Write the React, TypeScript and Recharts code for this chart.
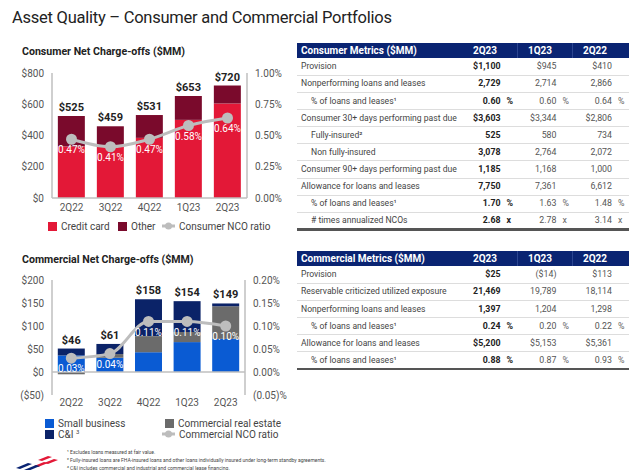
import {
  ComposedChart,
  Bar,
  Line,
  XAxis,
  YAxis,
  LabelList,
  ReferenceLine,
} from 'recharts';

const quarters = ['2Q22', '3Q22', '4Q22', '1Q23', '2Q23'];

const creditCard = [330, 335, 385, 500, 605];
const consumerOther = [195, 124, 146, 153, 115];
const consumerTotals = [525, 459, 531, 653, 720];
const consumerRatio = [0.47, 0.41, 0.47, 0.58, 0.64];

const smallBusiness = [36, 31, 43, 65, 72];
const commercialRealEstate = [-5, 8, 35, 22, 71];
const cAndI = [15, 22, 80, 67, 6];
const commercialTotals = [46, 61, 158, 154, 149];
const commercialRatio = [0.03, 0.04, 0.11, 0.11, 0.1];

const consumerLeftTicks = [0, 200, 400, 600, 800];
const consumerRightTicks = [0, 0.25, 0.5, 0.75, 1];
const commercialLeftTicks = [-50, 0, 50, 100, 150, 200];
const commercialRightTicks = [-0.05, 0, 0.05, 0.1, 0.15, 0.2];

const tableCols = ['2Q23', '1Q23', '2Q22'];

const consumerLabels = [
  'Provision',
  'Nonperforming loans and leases',
  '% of loans and leases¹',
  'Consumer 30+ days performing past due',
  'Fully-insured²',
  'Non fully-insured',
  'Consumer 90+ days performing past due',
  'Allowance for loans and leases',
  '% of loans and leases¹',
  '# times annualized NCOs',
];
const consumerIndent = [0, 0, 1, 0, 1, 1, 0, 0, 1, 1];
const consumerSuffix = ['', '', '%', '', '', '', '', '', '%', 'x'];
const consumer2Q23 = ['$1,100', '2,729', '0.60', '$3,603', '525', '3,078', '1,185', '7,750', '1.70', '2.68'];
const consumer1Q23 = ['$945', '2,714', '0.60', '$3,344', '580', '2,764', '1,168', '7,361', '1.63', '2.78'];
const consumer2Q22 = ['$410', '2,866', '0.64', '$2,806', '734', '2,072', '1,000', '6,612', '1.48', '3.14'];

const commercialLabels = [
  'Provision',
  'Reservable criticized utilized exposure',
  'Nonperforming loans and leases',
  '% of loans and leases¹',
  'Allowance for loans and leases',
  '% of loans and leases¹',
];
const commercialIndent = [0, 0, 0, 1, 0, 1];
const commercialSuffix = ['', '', '', '%', '', '%'];
const commercial2Q23 = ['$25', '21,469', '1,397', '0.24', '$5,200', '0.88'];
const commercial1Q23 = ['($14)', '19,789', '1,204', '0.20', '$5,153', '0.87'];
const commercial2Q22 = ['$113', '18,114', '1,298', '0.22', '$5,361', '0.93'];

const footnotes = [
  '¹ Excludes loans measured at fair value.',
  '² Fully-insured loans are FHA-insured loans and other loans individually insured under long-term standby agreements.',
  '³ C&I includes commercial and industrial and commercial lease financing.',
];

const FONT = 'Roboto, "Open Sans", sans-serif';
const RED = '#E31837';
const MAROON = '#7A0A2C';
const BLUE = '#0A5BD3';
const NAVY = '#0B2368';
const GRAY = '#6B6B6B';
const LINE_GRAY = '#BDBDBD';
const AXIS = '#BFBFBF';
const HEADER = '#0A2472';

const consumerData = quarters.map((q, i) => ({
  q,
  card: creditCard[i],
  other: consumerOther[i],
  total: consumerTotals[i],
  ratio: consumerRatio[i],
}));

const commercialData = quarters.map((q, i) => ({
  q,
  sb: smallBusiness[i],
  cre: commercialRealEstate[i],
  ci: cAndI[i],
  total: commercialTotals[i],
  ratio: commercialRatio[i],
}));

const tickStyle = { fontSize: 10, fill: '#555', fontFamily: FONT };

function dollars(v: number) {
  return v < 0 ? `($${-v})` : `$${v}`;
}

function pct(v: number) {
  return v < 0 ? `(${(-v).toFixed(2)})%` : `${v.toFixed(2)}%`;
}

function Swatch({ color }: { color: string }) {
  return <span style={{ display: 'inline-block', width: 9, height: 9, background: color }} />;
}

function LineSwatch() {
  return (
    <svg width={13} height={8}>
      <line x1={0} y1={4} x2={13} y2={4} stroke={LINE_GRAY} strokeWidth={3} />
      <circle cx={6.5} cy={4} r={3.5} fill={LINE_GRAY} />
    </svg>
  );
}

function LegendItem({ x, y, icon, text }: { x: number; y: number; icon: React.ReactNode; text: React.ReactNode }) {
  return (
    <div
      style={{
        position: 'absolute',
        left: x,
        top: y - 6,
        height: 12,
        display: 'flex',
        alignItems: 'center',
        gap: 4,
        fontSize: 10,
        color: '#444',
        whiteSpace: 'nowrap',
      }}
    >
      {icon}
      <span>{text}</span>
    </div>
  );
}

type TableProps = {
  top: number;
  title: string;
  labels: string[];
  indent: number[];
  suffix: string[];
  cols: string[][];
};

function MetricsTable({ top, title, labels, indent, suffix, cols }: TableProps) {
  const left = 297;
  const width = 332;
  const headH = 15.6;
  const rowH = 17.1;
  const rightEdges = [500.5, 556.5, 612];
  const centers = [485, 540, 595];
  return (
    <>
      <div style={{ position: 'absolute', left, top, width, height: headH, background: HEADER }} />
      <div style={{ position: 'absolute', left: 517, top, width: 1, height: headH, background: '#2B4590' }} />
      <div style={{ position: 'absolute', left: 572, top, width: 1, height: headH, background: '#2B4590' }} />
      <div
        style={{
          position: 'absolute',
          left: left + 4,
          top,
          height: headH,
          lineHeight: `${headH}px`,
          color: '#fff',
          fontWeight: 700,
          fontSize: 10,
        }}
      >
        {title}
      </div>
      {tableCols.map((c, j) => (
        <div
          key={c}
          style={{
            position: 'absolute',
            left: centers[j] - 20,
            width: 40,
            textAlign: 'center',
            top,
            height: headH,
            lineHeight: `${headH}px`,
            color: '#fff',
            fontWeight: 700,
            fontSize: 10,
          }}
        >
          {c}
        </div>
      ))}
      {labels.map((lab, i) => {
        const y = top + headH + i * rowH;
        const last = i === labels.length - 1;
        return (
          <div key={i}>
            <div
              style={{
                position: 'absolute',
                left: left + 4 + indent[i] * 10,
                top: y,
                height: rowH,
                lineHeight: `${rowH}px`,
                fontSize: 8.6,
                color: '#444',
                whiteSpace: 'nowrap',
              }}
            >
              {lab}
            </div>
            {cols.map((col, j) => (
              <div key={j}>
                <div
                  style={{
                    position: 'absolute',
                    left: rightEdges[j] - 60,
                    width: 60,
                    textAlign: 'right',
                    top: y,
                    height: rowH,
                    lineHeight: `${rowH}px`,
                    fontSize: 8.8,
                    fontWeight: j === 0 ? 700 : 400,
                    color: j === 0 ? '#222' : '#555',
                  }}
                >
                  {col[i]}
                </div>
                {suffix[i] && (
                  <div
                    style={{
                      position: 'absolute',
                      left: rightEdges[j] + 6,
                      top: y,
                      height: rowH,
                      lineHeight: `${rowH}px`,
                      fontSize: 8.8,
                      fontWeight: j === 0 ? 700 : 400,
                      color: j === 0 ? '#222' : '#666',
                    }}
                  >
                    {suffix[i]}
                  </div>
                )}
              </div>
            ))}
            <div
              style={{
                position: 'absolute',
                left,
                width,
                top: y + rowH - (last ? 1 : 0.5),
                height: last ? 2.5 : 1,
                background: last ? '#555' : '#DDDDDD',
              }}
            />
          </div>
        );
      })}
    </>
  );
}

export default function App() {
  return (
    <div
      style={{
        position: 'absolute',
        left: 0,
        top: 0,
        width: 640,
        height: 470,
        background: '#fff',
        fontFamily: FONT,
        overflow: 'hidden',
      }}
    >
      <div style={{ position: 'absolute', left: 12, top: 8, fontSize: 16.5, letterSpacing: -0.25, color: '#222' }}>
        Asset Quality – Consumer and Commercial Portfolios
      </div>

      <div style={{ position: 'absolute', left: 22, top: 45, fontSize: 10.6, fontWeight: 700, color: '#222' }}>
        Consumer Net Charge-offs ($MM)
      </div>

      <div style={{ position: 'absolute', left: 0, top: 60 }}>
        <ComposedChart width={290} height={160} data={consumerData} margin={{ top: 13, right: 0, bottom: 0, left: 0 }} barCategoryGap="15%">
          <XAxis dataKey="q" tick={tickStyle} tickLine={false} tickSize={4} axisLine={{ stroke: AXIS, strokeWidth: 1.5 }} height={22} />
          <YAxis
            yAxisId="left"
            width={52}
            domain={[0, 800]}
            ticks={consumerLeftTicks}
            tickFormatter={dollars}
            tick={tickStyle}
            tickLine={false}
            axisLine={{ stroke: AXIS, strokeWidth: 1.5 }}
          />
          <YAxis
            yAxisId="right"
            orientation="right"
            width={43}
            domain={[0, 1]}
            ticks={consumerRightTicks}
            tickFormatter={pct}
            tick={tickStyle}
            tickLine={false}
            axisLine={{ stroke: AXIS, strokeWidth: 1.5 }}
          />
          <Bar yAxisId="left" dataKey="card" stackId="a" fill={RED} isAnimationActive={false} />
          <Bar yAxisId="left" dataKey="other" stackId="a" fill={MAROON} isAnimationActive={false}>
            <LabelList dataKey="total" position="top" offset={5} formatter={(v: number) => `$${v}`} fill="#222" fontSize={11} fontWeight={700} />
          </Bar>
          <Line
            yAxisId="right"
            dataKey="ratio"
            type="monotone"
            stroke={LINE_GRAY}
            strokeWidth={3}
            dot={{ r: 4, fill: LINE_GRAY, stroke: LINE_GRAY }}
            isAnimationActive={false}
          >
            <LabelList dataKey="ratio" position="bottom" offset={7} formatter={(v: number) => pct(v)} fill="#fff" fontSize={10} />
          </Line>
        </ComposedChart>
      </div>

      <LegendItem x={48} y={226} icon={<Swatch color={RED} />} text="Credit card" />
      <LegendItem x={118} y={226} icon={<Swatch color={MAROON} />} text="Other" />
      <LegendItem x={162} y={226} icon={<LineSwatch />} text="Consumer NCO ratio" />

      <div style={{ position: 'absolute', left: 22, top: 253, fontSize: 10.6, fontWeight: 700, color: '#222' }}>
        Commercial Net Charge-offs ($MM)
      </div>

      <div style={{ position: 'absolute', left: 0, top: 265 }}>
        <ComposedChart
          width={290}
          height={150}
          data={commercialData}
          margin={{ top: 15, right: 0, bottom: 0, left: 0 }}
          barCategoryGap="15%"
          stackOffset="sign"
        >
          <XAxis dataKey="q" tick={tickStyle} tickLine={false} tickSize={2} axisLine={false} height={20} />
          <YAxis
            yAxisId="left"
            width={52}
            domain={[-50, 200]}
            ticks={commercialLeftTicks}
            tickFormatter={dollars}
            tick={tickStyle}
            tickLine={false}
            axisLine={{ stroke: AXIS, strokeWidth: 1.5 }}
          />
          <YAxis
            yAxisId="right"
            orientation="right"
            width={45}
            domain={[-0.05, 0.2]}
            ticks={commercialRightTicks}
            tickFormatter={pct}
            tick={tickStyle}
            tickLine={false}
            axisLine={{ stroke: AXIS, strokeWidth: 1.5 }}
          />
          <ReferenceLine yAxisId="left" y={0} stroke={AXIS} strokeWidth={1.5} />
          <Bar yAxisId="left" dataKey="sb" stackId="c" fill={BLUE} isAnimationActive={false} />
          <Bar yAxisId="left" dataKey="cre" stackId="c" fill={GRAY} isAnimationActive={false} />
          <Bar yAxisId="left" dataKey="ci" stackId="c" fill={NAVY} isAnimationActive={false}>
            <LabelList dataKey="total" position="top" offset={5} formatter={(v: number) => `$${v}`} fill="#222" fontSize={11} fontWeight={700} />
          </Bar>
          <Line
            yAxisId="right"
            dataKey="ratio"
            type="monotone"
            stroke={LINE_GRAY}
            strokeWidth={3}
            dot={{ r: 4, fill: LINE_GRAY, stroke: LINE_GRAY }}
            isAnimationActive={false}
          >
            <LabelList dataKey="ratio" position="bottom" offset={7} formatter={(v: number) => pct(v)} fill="#fff" fontSize={10} />
          </Line>
        </ComposedChart>
      </div>

      <LegendItem x={45} y={423} icon={<Swatch color={BLUE} />} text="Small business" />
      <LegendItem x={45} y={434} icon={<Swatch color={NAVY} />} text={<>C&amp;I <sup style={{ fontSize: 6 }}>3</sup></>} />
      <LegendItem x={165} y={423} icon={<Swatch color={GRAY} />} text="Commercial real estate" />
      <LegendItem x={162} y={434} icon={<LineSwatch />} text="Commercial NCO ratio" />

      <MetricsTable
        top={42.7}
        title="Consumer Metrics ($MM)"
        labels={consumerLabels}
        indent={consumerIndent}
        suffix={consumerSuffix}
        cols={[consumer2Q23, consumer1Q23, consumer2Q22]}
      />
      <MetricsTable
        top={250.7}
        title="Commercial Metrics ($MM)"
        labels={commercialLabels}
        indent={commercialIndent}
        suffix={commercialSuffix}
        cols={[commercial2Q23, commercial1Q23, commercial2Q22]}
      />

      {footnotes.map((f, i) => (
        <div key={i} style={{ position: 'absolute', left: 67, top: 449 + i * 7.8, fontSize: 5, color: '#444', whiteSpace: 'nowrap' }}>
          {f}
        </div>
      ))}

      <svg style={{ position: 'absolute', left: 8, top: 454 }} width={50} height={16}>
        <polygon points="30,6 40,2 44,3 34,7" fill={RED} />
        <polygon points="36,9 46,5 50,6 40,10" fill={RED} />
        <polygon points="26,12 36,8 40,9 30,13" fill={RED} />
        <polygon points="8,14 20,9 24,10 12,15" fill={HEADER} />
        <polygon points="16,16 28,11 32,12 20,17" fill={HEADER} />
      </svg>
    </div>
  );
}
